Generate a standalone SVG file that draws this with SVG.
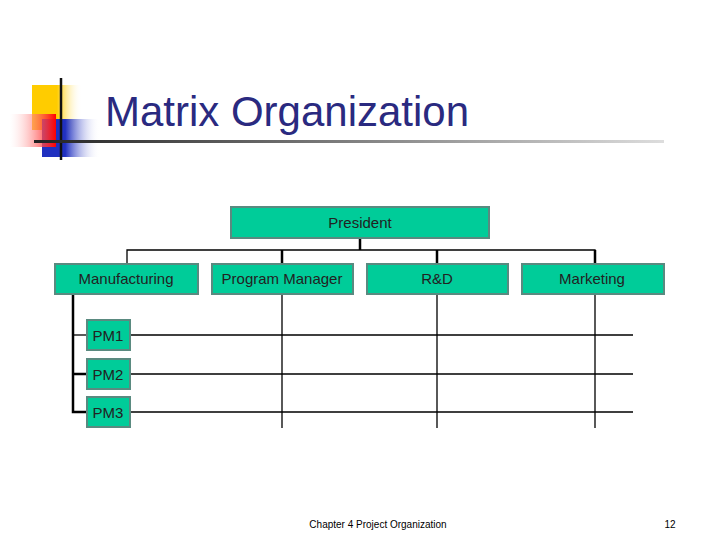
<svg xmlns="http://www.w3.org/2000/svg" width="720" height="540" viewBox="0 0 720 540">
<defs>
<linearGradient id="red" x1="1" y1="0" x2="0" y2="0"><stop offset="0" stop-color="#f00"/><stop offset="1" stop-color="#fff" stop-opacity="0.2"/></linearGradient>
<linearGradient id="blue" x1="0" y1="0" x2="1" y2="0"><stop offset="0.4" stop-color="#2030c0"/><stop offset="1" stop-color="#fff" stop-opacity="0"/></linearGradient>
<linearGradient id="yel" x1="0" y1="0" x2="1" y2="0"><stop offset="0.5" stop-color="#ffcc00"/><stop offset="1" stop-color="#fff" stop-opacity="0"/></linearGradient>
<linearGradient id="rule" x1="0" y1="0" x2="1" y2="0"><stop offset="0" stop-color="#222"/><stop offset="1" stop-color="#ddd"/></linearGradient>
<style>
.box{fill:#00cc99;stroke:#5a8a80;stroke-width:2}
.t{font-family:"Liberation Sans",Arial,sans-serif;font-size:15px;fill:#222;text-anchor:middle}
.l{stroke:#000;stroke-width:1.3;fill:none}
.k{stroke:#000;stroke-width:2.5;fill:none}
</style>
</defs>
<rect width="720" height="540" fill="#fff"/>
<g id="logo">
<rect x="32" y="85" width="50" height="45" fill="url(#yel)"/>
<rect x="42" y="119" width="58" height="38" fill="url(#blue)"/>
<rect x="10" y="114" width="46" height="33" fill="url(#red)"/>
<line x1="61" y1="78" x2="61" y2="160" stroke="#111" stroke-width="2.5"/>
<rect x="34" y="140" width="630" height="3" fill="url(#rule)"/>
</g>
<text x="287" y="126" font-family="Liberation Sans,Arial,sans-serif" font-size="42" fill="#2a2a80" text-anchor="middle">Matrix Organization</text>
<g id="connectors">
<path class="l" d="M127 264V250H595V264"/>
<path class="k" d="M360 238V250M282 250V264M437 250V264M595 250V264"/>
<path class="l" d="M282 294V428M437 294V428M595 294V428"/>
<path class="l" d="M130 335H633M130 374H633M130 412H633"/>
<path class="k" d="M73 294V412H87M73 374H87"/>
<path class="l" d="M73 335H87"/>
</g>
<g id="president"><rect class="box" x="231" y="207" width="258" height="31"/><text class="t" x="360" y="228">President</text></g>
<g id="manufacturing"><rect class="box" x="55" y="264" width="143" height="30"/><text class="t" x="126" y="284">Manufacturing</text></g>
<g id="program-manager"><rect class="box" x="212" y="264" width="141" height="30"/><text class="t" x="282" y="284">Program Manager</text></g>
<g id="rd"><rect class="box" x="367" y="264" width="141" height="30"/><text class="t" x="437" y="284">R&amp;D</text></g>
<g id="marketing"><rect class="box" x="522" y="264" width="142" height="30"/><text class="t" x="592" y="284">Marketing</text></g>
<g id="pm1"><rect class="box" x="87" y="320" width="43" height="30"/><text class="t" x="108" y="341">PM1</text></g>
<g id="pm2"><rect class="box" x="87" y="359" width="43" height="30"/><text class="t" x="108" y="380">PM2</text></g>
<g id="pm3"><rect class="box" x="87" y="397" width="43" height="30"/><text class="t" x="108" y="418">PM3</text></g>
<text x="378" y="528" font-family="Liberation Sans,Arial,sans-serif" font-size="10" fill="#000" text-anchor="middle">Chapter 4 Project Organization</text>
<text x="670" y="528" font-family="Liberation Sans,Arial,sans-serif" font-size="10" fill="#000" text-anchor="middle">12</text>
</svg>
